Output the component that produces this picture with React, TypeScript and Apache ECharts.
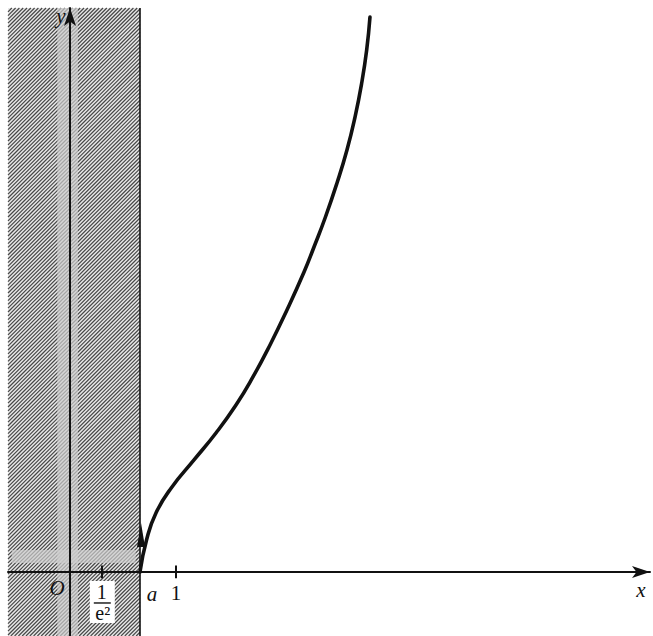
import React, { useEffect, useRef } from 'react';
import * as echarts from 'echarts';

// Plot window in data units
const xMin = -0.585;
const xMax = 5.472;
const yMin = -0.604;
const yMax = 5.321;

// Left edge of the domain (boundary x = a)
const aValue = 0.66;

// Curve samples y = f(x), starting at (a, 0) with a vertical tangent
const curveX = [0.66, 0.722, 0.811, 0.962, 1.17, 1.377, 1.566, 1.726, 1.887, 2.047, 2.208, 2.302, 2.41, 2.519, 2.613, 2.689, 2.752, 2.799, 2.83];
const curveY = [0, 0.302, 0.557, 0.802, 1.057, 1.311, 1.575, 1.84, 2.142, 2.472, 2.83, 3.066, 3.349, 3.67, 3.981, 4.292, 4.613, 4.925, 5.236];

// Marked points on the x axis
const tickValues = [0.3, 1];

// Lighter bands inside the hatched region: [x0, x1, y0, y1]
const shadeBands = [
  [-0.12, 0.075, yMin, yMax],
  [-0.55, 0.62, 0.085, 0.208],
];

const FONT = '"Liberation Serif", "DejaVu Serif", "Times New Roman", serif';

export default function App() {
  const ref = useRef<HTMLDivElement>(null);

  useEffect(() => {
    document.body.style.margin = '0';
    const chart = echarts.init(ref.current!, null, { renderer: 'svg' });

    const axisCommon = {
      type: 'value',
      axisLine: {
        onZero: true,
        symbol: ['none', 'arrow'],
        symbolSize: [9, 18],
        lineStyle: { color: '#111', width: 2 },
      },
      axisTick: { show: false },
      axisLabel: { show: false },
      splitLine: { show: false },
    };

    chart.setOption({
      animation: false,
      backgroundColor: '#fff',
      grid: { left: 8, right: 3, top: 8, bottom: 0 },
      xAxis: { ...axisCommon, min: xMin, max: xMax },
      yAxis: { ...axisCommon, min: yMin, max: yMax },
      series: [
        {
          type: 'custom',
          silent: true,
          z: -1,
          data: [[xMin, aValue, yMin, yMax]],
          renderItem: (params: any, api: any) => {
            const tl = api.coord([api.value(0), api.value(3)]);
            const br = api.coord([api.value(1), api.value(2)]);
            const x0 = tl[0], y0 = tl[1], x1 = br[0], y1 = br[1];
            const children: any[] = [
              { type: 'rect', shape: { x: x0, y: y0, width: x1 - x0, height: y1 - y0 }, style: { fill: '#e8e8e8' } },
            ];
            const step = 3.8;
            for (let c = x0 + y0; c <= x1 + y1; c += step) {
              const sx = Math.max(x0, c - y1);
              const ex = Math.min(x1, c - y0);
              if (ex <= sx) continue;
              children.push({
                type: 'line',
                shape: { x1: sx, y1: c - sx, x2: ex, y2: c - ex },
                style: { stroke: '#474747', lineWidth: 1.2 },
              });
            }
            shadeBands.forEach((b) => {
              const p = api.coord([b[0], b[3]]);
              const q = api.coord([b[1], b[2]]);
              children.push({
                type: 'rect',
                shape: { x: p[0], y: Math.max(p[1], y0), width: q[0] - p[0], height: Math.min(q[1], y1) - Math.max(p[1], y0) },
                style: { fill: 'rgba(205,205,205,0.7)' },
              });
            });
            return { type: 'group', children };
          },
        },
        {
          type: 'line',
          z: 5,
          data: curveX.map((x, i) => [x, curveY[i]]),
          smooth: 0.5,
          symbol: 'none',
          lineStyle: { color: '#111', width: 3.6, cap: 'round' },
          markLine: {
            silent: true,
            symbol: 'none',
            label: { show: false },
            lineStyle: { color: '#111', width: 1.6, type: 'solid' },
            data: [
              { xAxis: aValue },
              ...tickValues.map((v) => [
                { coord: [v, -0.06], lineStyle: { width: 2, color: '#111', type: 'solid' } },
                { coord: [v, 0.06] },
              ]),
            ],
          },
          markPoint: {
            silent: true,
            symbol: 'triangle',
            symbolSize: [8, 24],
            itemStyle: { color: '#111' },
            label: { show: false },
            data: [{ coord: [aValue + 0.01, 0.35] }],
          },
        },
      ],
    });

    const px = (x: number, y: number) => chart.convertToPixel({ xAxisIndex: 0, yAxisIndex: 0 }, [x, y]) as number[];
    const o = px(0, 0);
    const f = px(tickValues[0], 0);
    const a = px(aValue, 0);
    const one = px(tickValues[1], 0);
    const xEnd = px(xMax, 0);
    const yEnd = px(0, yMax);

    const txt = (x: number, y: number, text: string, italic: boolean, size = 21) => ({
      type: 'text',
      x,
      y,
      z: 20,
      style: {
        text,
        fill: '#111',
        font: `${italic ? 'italic ' : ''}${size}px ${FONT}`,
        align: 'center',
        verticalAlign: 'middle',
      },
    });

    chart.setOption({
      graphic: [
        { type: 'rect', z: 15, shape: { x: f[0] - 12, y: f[1] + 9, width: 25, height: 42 }, style: { fill: '#fff' } },
        txt(o[0] - 13, o[1] + 16, 'O', true),
        txt(f[0], f[1] + 20, '1', false, 20),
        { type: 'line', z: 20, shape: { x1: f[0] - 8, y1: f[1] + 31, x2: f[0] + 9, y2: f[1] + 31 }, style: { stroke: '#111', lineWidth: 1.4 } },
        txt(f[0] + 1, f[1] + 41, 'e²', false, 20),
        txt(a[0] + 12, a[1] + 22, 'a', true),
        txt(one[0], one[1] + 21, '1', false),
        txt(xEnd[0] - 9, xEnd[1] + 18, 'x', true),
        txt(yEnd[0] - 9, yEnd[1] + 8, 'y', true),
      ],
    });

    return () => chart.dispose();
  }, []);

  return <div ref={ref} style={{ width: 653, height: 636 }} />;
}
